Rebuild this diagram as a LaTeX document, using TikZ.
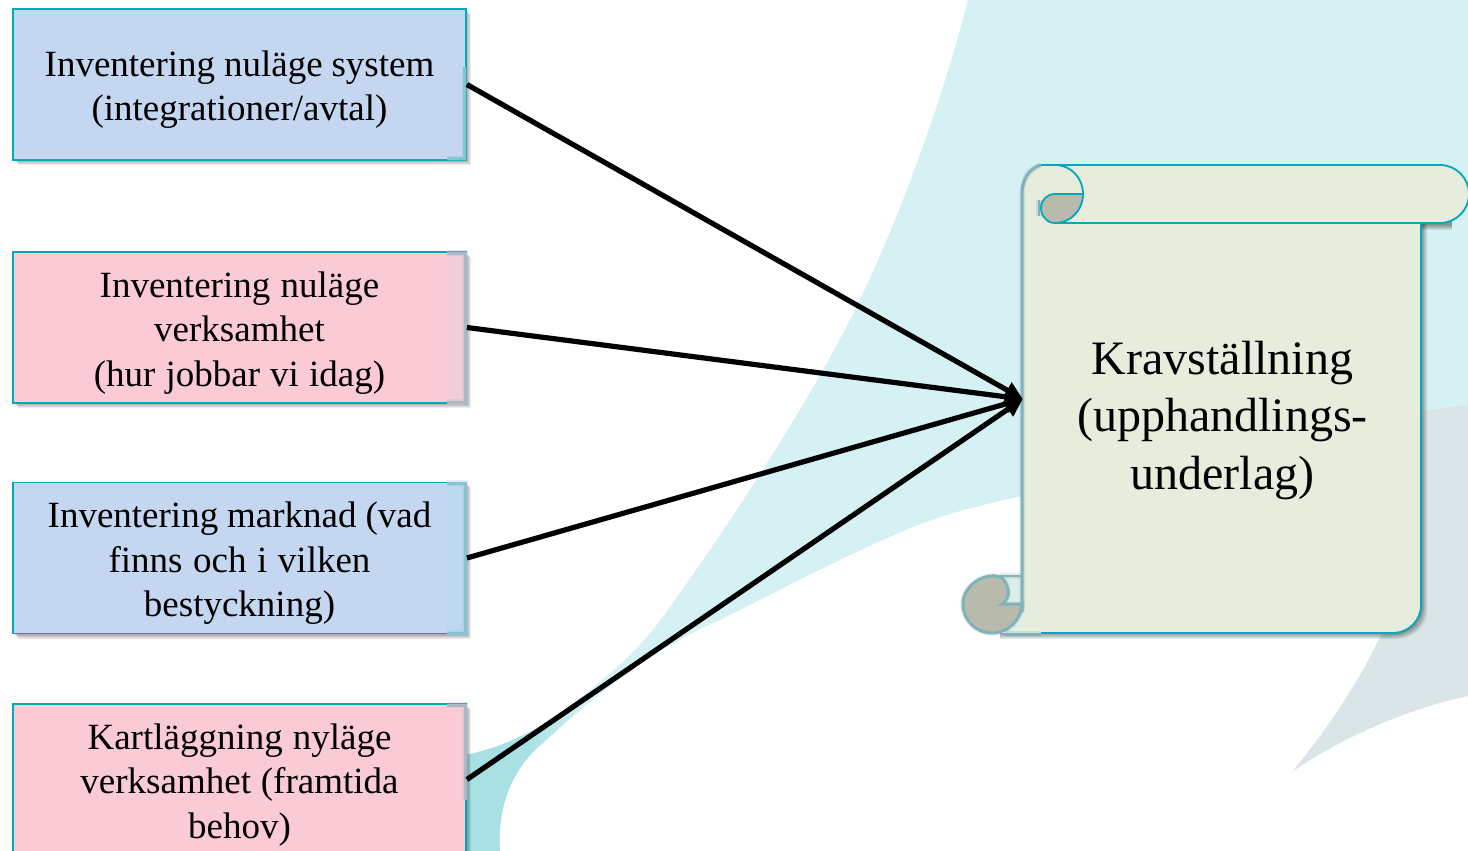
\documentclass[tikz,border=0pt]{standalone}
\usepackage{fontspec}
\setmainfont{Liberation Serif}
\usetikzlibrary{arrows.meta}
\definecolor{tealline}{RGB}{0,170,186}
\definecolor{blurline}{RGB}{130,178,185}
\definecolor{blurgrey}{RGB}{168,187,197}
\definecolor{blurblue}{RGB}{135,195,210}
\definecolor{boxblue}{RGB}{197,215,240}
\definecolor{boxpink}{RGB}{250,203,213}
\definecolor{tintblue}{RGB}{188,216,236}
\definecolor{tintpink}{RGB}{240,205,215}
\definecolor{scrollfill}{RGB}{230,237,221}
\definecolor{curlfill}{RGB}{184,187,172}
\definecolor{bglight}{RGB}{214,241,243}
\definecolor{bgdark}{RGB}{168,224,228}
\definecolor{bggrey}{RGB}{218,229,232}
\tikzset{
  x=1pt,y=-1pt,
  infobox/.style={draw=tealline,line width=1.8pt,minimum width=453pt,minimum height=151pt,
    inner sep=0pt,align=center,text width=430pt,
    font=\fontsize{37}{44.5}\selectfont,
    execute at begin node={\spaceskip=8.3pt plus 2pt minus 1pt\relax\rule[-8pt]{0pt}{44pt}},
    execute at end node={\rule[-8pt]{0pt}{8pt}}},
  bluebox/.style={infobox,fill=boxblue},
  pinkbox/.style={infobox,fill=boxpink},
  feed/.style={line width=5.2pt,black,-{Triangle[length=18pt,width=17pt]}},
  softshadow/.style={black,opacity=0.08},
  blurred/.style={#1,line width=3pt,preaction={draw=#1,line width=5.5pt,opacity=0.25}},
  blurred/.default=blurline,
  scrollline/.style={tealline,line width=1.8pt}
}
\newcommand{\boxshadow}[2]{%
  \foreach \d in {1,2,3,4,5}{\fill[softshadow] (13+\d,#1+\d) rectangle (466+\d,#2+\d);}}
\begin{document}
\begin{tikzpicture}
\useasboundingbox (0,0) rectangle (1468,851);
\clip (0,0) rectangle (1468,851);
% background sweep
\fill[bglight] (968,0) .. controls (945,90) and (905,205) .. (863,293)
  .. controls (825,375) and (750,495) .. (670,607)
  .. controls (640,650) and (612,672) .. (590,690)
  .. controls (560,715) and (520,745) .. (460,756)
  -- (460,851) -- (500,851)
  .. controls (497,810) and (510,770) .. (543,743)
  .. controls (590,700) and (650,650) .. (720,620)
  .. controls (780,590) and (840,558) .. (899,533)
  .. controls (940,515) and (980,505) .. (1018,497)
  .. controls (1200,450) and (1330,420) .. (1468,405)
  -- (1468,0) -- cycle;
% dark tail
\begin{scope}
\clip (590,690) .. controls (560,715) and (520,745) .. (460,756)
  -- (460,851) -- (500,851)
  .. controls (497,810) and (510,770) .. (543,743) -- (590,700) -- cycle;
\fill[bgdark] (460,720) rectangle (525,851);
\shade[left color=bgdark,right color=bglight] (525,680) rectangle (590,851);
\end{scope}
% grey sweep
\fill[bggrey] (1018,497) .. controls (1200,450) and (1330,420) .. (1468,405)
  -- (1468,696) .. controls (1410,708) and (1340,738) .. (1292,772)
  .. controls (1330,725) and (1370,670) .. (1400,590) -- (1400,497) -- cycle;
% boxes
\boxshadow{9}{160}
\boxshadow{252}{403}
\boxshadow{482}{634}
\boxshadow{704}{855}
\node[bluebox] (b1) at (239.5,84.5) {Inventering nuläge system\\(integrationer/avtal)};
\node[pinkbox] (b2) at (239.5,327.5) {Inventering nuläge\\verksamhet\\(hur jobbar vi idag)};
\node[bluebox] (b3) at (239.5,558) {Inventering marknad (vad\\finns och i vilken\\bestyckning)};
\node[pinkbox] (b4) at (239.5,779.5) {Kartläggning nyläge\\verksamhet (framtida\\behov)};
% box blurred edges
\fill[tintpink] (447,253) rectangle (464,402);
\fill[tintblue] (447,483) rectangle (464,633);
\draw[blurred=blurblue] (464.5,67) -- (464.5,158.5) -- (447,158.5);
\draw[blurred=blurgrey] (447,253) -- (465,253) -- (465,402) -- (447,402);
\draw[blurred=blurblue] (447,483) -- (465,483) -- (465,633) -- (447,633);
\draw[blurred=blurgrey] (447,705) -- (465,705) -- (465,800);
% scroll shadow
\foreach \d in {1,2,3,4,5,6}{
  \fill[softshadow] (1030,223) -- (1421+\d,223) -- (1421+\d,605+\d)
    .. controls (1421+\d,620+\d) and (1408+\d,633+\d) .. (1393,633+\d) -- (1000,633+\d) -- (1000,633) -- (1030,633) -- cycle;
  \fill[softshadow] (1421,200+\d) -- (1452,200+\d) -- (1452,224+\d) -- (1421,224+\d) -- cycle;
}
% scroll body
\fill[scrollfill] (1022,633) -- (1022,195) .. controls (1022,178) and (1030,168) .. (1041,165)
  -- (1421,165) -- (1421,605) .. controls (1421,620.5) and (1408.5,633) .. (1393,633) -- cycle;
\fill[bglight!60!scrollfill] (1003,576) rectangle (1022,604);
\fill[scrollfill!70!bglight] (1005,604) rectangle (1024,633);
\draw[blurred] (1022,612) -- (1022,195) .. controls (1022,178) and (1030,168) .. (1041,165);
\draw[blurred] (1005,634) -- (1041,634);
\draw[blurred,line width=2pt] (1000,576) -- (1022,576);
\draw[scrollline] (1041,633) -- (1393,633) .. controls (1408.5,633) and (1421,620.5) .. (1421,605) -- (1421,223);
% bottom curl
\draw[blurred,fill=curlfill] (1000,577) .. controls (985,572) and (963,585) .. (963,604)
  .. controls (963,620) and (976,633) .. (992,633)
  .. controls (1008,633) and (1021,620) .. (1022,604) -- (1002,604)
  .. controls (1006,602) and (1009,596) .. (1008,590)
  .. controls (1007,584) and (1004,579) .. cycle;
% top band
\fill[scrollfill] (1041,165) -- (1440,165) .. controls (1456,165) and (1469,178) .. (1469,194)
  .. controls (1469,210) and (1456,223) .. (1440,223) -- (1041,223) -- cycle;
\fill[curlfill] (1083,194) -- (1055,194) .. controls (1047,194) and (1040,200) .. (1040,208)
  .. controls (1040,216) and (1047,223) .. (1055,223)
  .. controls (1071,223) and (1083,210) .. (1083,194) -- cycle;
\draw[blurred,line width=2.5pt] (1039,200) -- (1039,216);
\draw[scrollline] (1041,165) -- (1440,165) .. controls (1456,165) and (1469,178) .. (1469,194)
  .. controls (1469,210) and (1456,223) .. (1440,223) -- (1055,223);
\draw[scrollline] (1055,165) .. controls (1071,165) and (1083,178) .. (1083,194)
  .. controls (1083,210) and (1071,223) .. (1055,223);
\draw[scrollline] (1083,194) -- (1055,194) .. controls (1047,194) and (1041,200) .. (1041,208)
  .. controls (1041,216) and (1047,223) .. (1055,223);
% text and anchor of the scroll
\node[minimum width=398pt,minimum height=468pt,inner sep=0pt] (k) at (1222,399) {};
\node[align=center,font=\fontsize{48}{57.5}\selectfont,inner sep=0pt] (kt) at (1222.5,420.5) {Kravställning\\(upphandlings-\\underlag)};
% connectors
\draw[feed] (b1.east) -- (k.west);
\draw[feed] (b2.east) -- (k.west);
\draw[feed] (b3.east) -- (k.west);
\draw[feed] (b4.east) -- (k.west);
\end{tikzpicture}
\end{document}
